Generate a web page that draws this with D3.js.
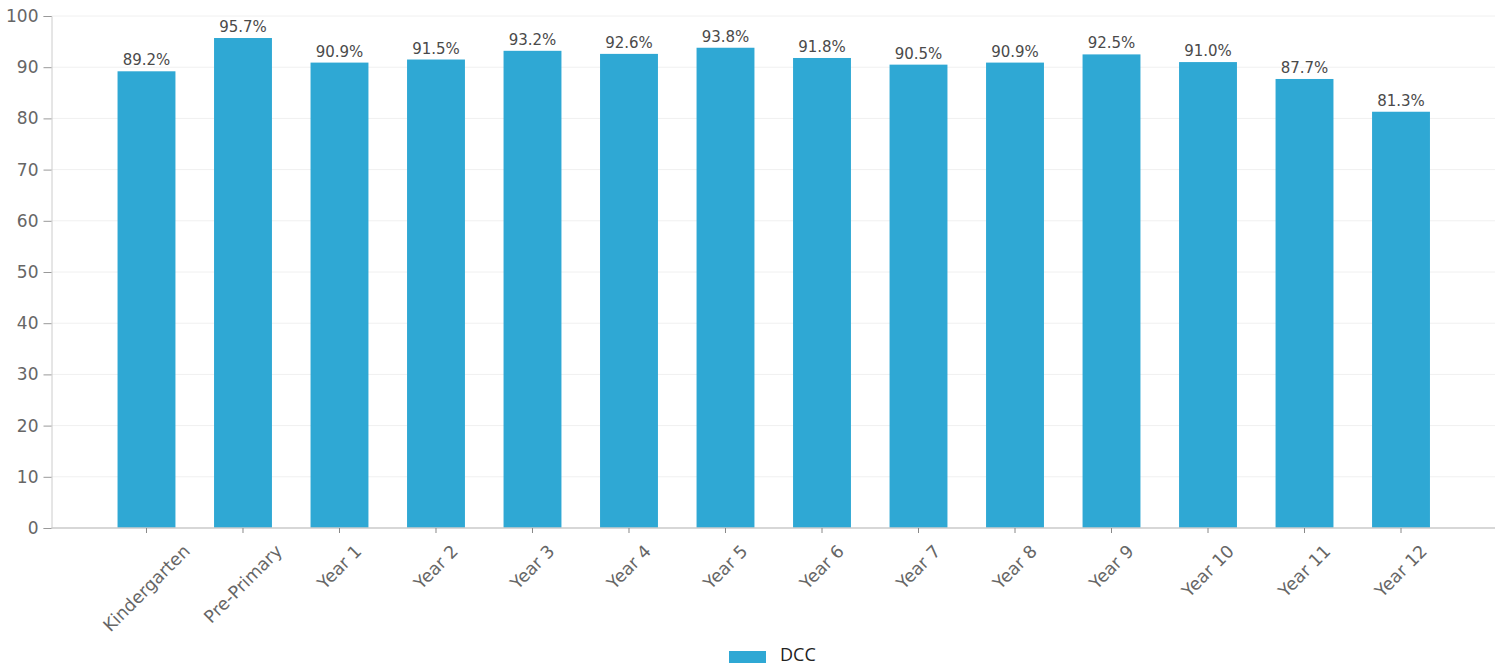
<!DOCTYPE html>
<html>
<head>
<meta charset="utf-8">
<script src="https://cdn.jsdelivr.net/npm/d3@7"></script>
<style>
  html, body { margin: 0; padding: 0; background: #fff; }
  svg { display: block; }
</style>
</head>
<body>
<svg id="chart" width="1501" height="666"></svg>
<script>
// Attendance rate by year level
const categories = ["Kindergarten", "Pre-Primary", "Year 1", "Year 2", "Year 3", "Year 4", "Year 5",
                    "Year 6", "Year 7", "Year 8", "Year 9", "Year 10", "Year 11", "Year 12"];
const values = [89.2, 95.7, 90.9, 91.5, 93.2, 92.6, 93.8, 91.8, 90.5, 90.9, 92.5, 91.0, 87.7, 81.3];
const yTicks = [0, 10, 20, 30, 40, 50, 60, 70, 80, 90, 100];
const seriesName = "DCC";

const W = 1501, H = 666;
const margin = { left: 51.5, right: 6, top: 16, bottom: 138 };
const barColor = "#2fa8d4";
const font = "DejaVu Sans, sans-serif";

const svg = d3.select("#chart");
const x = d3.scaleBand()
  .domain(categories)
  .range([margin.left + 1, W - margin.right])
  .paddingInner(0.4)
  .paddingOuter(0.674);
const y = d3.scaleLinear().domain([0, 100]).range([H - margin.bottom, margin.top]);

// Gridlines
svg.append("g")
  .selectAll("line")
  .data(yTicks)
  .join("line")
  .attr("x1", margin.left).attr("x2", W - margin.right)
  .attr("y1", d => y(d)).attr("y2", d => y(d))
  .attr("stroke", "#f0f0f0").attr("stroke-width", 1);

// Bars
svg.append("g")
  .selectAll("rect")
  .data(values)
  .join("rect")
  .attr("x", (d, i) => x(categories[i]))
  .attr("width", x.bandwidth())
  .attr("y", d => y(d))
  .attr("height", d => y(0) - y(d))
  .attr("fill", barColor);

// Value labels
svg.append("g")
  .selectAll("text")
  .data(values)
  .join("text")
  .attr("x", (d, i) => x(categories[i]) + x.bandwidth() / 2)
  .attr("y", d => y(d) - 6)
  .attr("text-anchor", "middle")
  .attr("font-family", font)
  .attr("font-size", 15)
  .attr("fill", "#4a4a4a")
  .text(d => d.toFixed(1) + "%");

// Y axis
const yAxis = svg.append("g")
  .attr("transform", `translate(${margin.left},0)`)
  .call(d3.axisLeft(y).tickValues(yTicks).tickSize(8).tickPadding(5));
yAxis.select(".domain").attr("stroke", "#ccc");
yAxis.selectAll(".tick line").attr("stroke", "#999");
yAxis.selectAll(".tick text")
  .attr("font-family", font).attr("font-size", 17).attr("fill", "#666");

// X axis baseline spans the full plot width
svg.append("line")
  .attr("x1", margin.left).attr("x2", W - margin.right)
  .attr("y1", y(0)).attr("y2", y(0))
  .attr("stroke", "#ccc").attr("stroke-width", 1.5);

const xAxis = svg.append("g")
  .attr("transform", `translate(0,${y(0)})`)
  .call(d3.axisBottom(x).tickSize(5).tickSizeOuter(0));
xAxis.select(".domain").remove();
xAxis.selectAll(".tick line").attr("stroke", "#888");

// Rotated category labels, each centred under its tick by its rotated box
xAxis.selectAll(".tick text").each(function () {
  const t = d3.select(this);
  t.attr("font-family", font).attr("font-size", 17.5).attr("fill", "#666")
   .attr("text-anchor", "middle").attr("dy", null).attr("dominant-baseline", "central");
  const w = this.getComputedTextLength();
  const h = 17;
  const half = (w + h) / (2 * Math.SQRT2);
  const cy = 14 + half;
  t.attr("y", 0).attr("x", 0)
   .attr("transform", `translate(0,${cy}) rotate(-45)`);
});

// Legend
const legend = svg.append("g");
legend.append("rect")
  .attr("x", 729).attr("y", 651).attr("width", 37).attr("height", 12)
  .attr("fill", barColor);
legend.append("text")
  .attr("x", 780).attr("y", 661)
  .attr("font-family", "Open Sans, sans-serif").attr("font-size", 18)
  .attr("fill", "#222")
  .text(seriesName);
</script>
</body>
</html>
